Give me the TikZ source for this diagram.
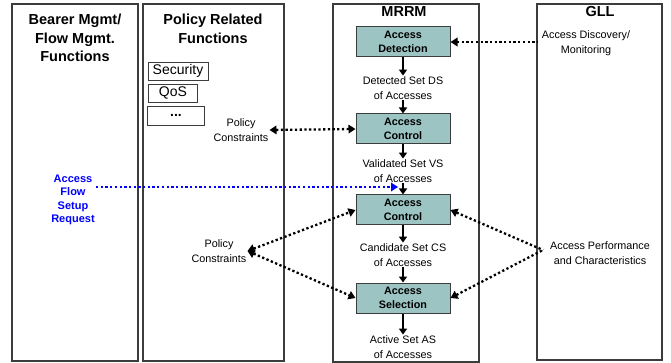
\documentclass[tikz,border=0pt]{standalone}
\usepackage{fontspec}
\setmainfont{Liberation Sans}
\usetikzlibrary{arrows.meta}
\definecolor{boxteal}{RGB}{155,196,194}
\definecolor{colline}{RGB}{60,60,60}
\tikzset{
  column/.style={draw=colline, line width=1.1pt},
  coltitle/.style={font=\fontsize{14.5}{18.5}\selectfont\bfseries, align=center, inner sep=0pt},
  funcbox/.style={draw=colline, line width=0.7pt, font=\fontsize{14}{16}\selectfont, inner sep=0pt},
  mrrmbox/.style={draw=colline, fill=boxteal, line width=1pt, minimum width=94pt, minimum height=30pt, align=center, inner sep=0pt, font=\fontsize{10.8}{14}\selectfont\bfseries},
  setlabel/.style={font=\fontsize{10.8}{14.5}\selectfont, align=center, inner sep=1pt},
  flowarrow/.style={line width=2pt, -{Triangle[length=6pt,width=8pt]}},
  dotarrow/.style={line width=2.3pt, dash pattern=on 2.3pt off 2.4pt, {Triangle[length=7pt,width=8.5pt]}-{Triangle[length=7pt,width=8.5pt]}},
  dotleft/.style={line width=2.3pt, dash pattern=on 2.3pt off 2.4pt, {Triangle[length=7pt,width=8.5pt]}-},
}
\begin{document}
\begin{tikzpicture}[x=1pt,y=-1pt]
\useasboundingbox (0,0) rectangle (671,363);
% columns
\draw[column] (12,4) rectangle (138,361);
\draw[column] (143,4) rectangle (284,361);
\draw[column] (333,4) rectangle (479,362);
\draw[column] (537,4) rectangle (662,360);
% titles
\node[coltitle] (t1) at (75,38) {Bearer Mgmt/\\Flow Mgmt.\\Functions};
\node[coltitle] (t2) at (213,29) {Policy Related\\Functions};
\node[coltitle] (t3) at (404,12) {MRRM};
\node[coltitle] (t4) at (600,12) {GLL};
% policy function boxes
\node[funcbox, minimum width=60pt, minimum height=18pt] (sec) at (178,71) {Security};
\node[funcbox, minimum width=49pt, minimum height=18pt] (qos) at (173,93) {QoS};
\node[funcbox, minimum width=57pt, minimum height=19pt] (dots) at (176,116) {\raisebox{2pt}{\bfseries...}};
% MRRM boxes
\node[mrrmbox] (ad) at (403,42) {Access\\Detection};
\node[mrrmbox] (ac1) at (403,129) {Access\\Control};
\node[mrrmbox] (ac2) at (403,210) {Access\\Control};
\node[mrrmbox] (as) at (403,298) {Access\\Selection};
% set labels
\node[setlabel] (ds) at (403,88) {Detected Set DS\\of Accesses};
\node[setlabel] (vs) at (403,171) {Validated Set VS\\of Accesses};
\node[setlabel] (cs) at (403,255) {Candidate Set CS\\of Accesses};
\node[setlabel] (asl) at (403,347) {Active Set AS\\of Accesses};
% flow arrows
\draw[flowarrow] (ad.south) -- (ds.north);
\draw[flowarrow] (ds.south) -- (ac1.north);
\draw[flowarrow] (ac1.south) -- (vs.north);
\draw[flowarrow] (vs.south) -- (ac2.north);
\draw[flowarrow] (ac2.south) -- (cs.north);
\draw[flowarrow] (cs.south) -- (as.north);
\draw[flowarrow] (as.south) -- (asl.north);
% side labels
\node[setlabel] (disc) at (586,43) {Access Discovery/\\Monitoring};
\node[setlabel] (pc1) at (241,130) {Policy\\Constraints};
\node[setlabel] (pc2) at (219,251) {Policy\\Constraints};
\node[setlabel] (perf) at (600,253) {Access Performance\\and Characteristics};
\node[font=\fontsize{11}{13.5}\selectfont\bfseries, text=blue, align=center, inner sep=0pt] (afsr) at (73,200) {Access\\Flow\\Setup\\Request};
% dotted connectors
\coordinate (discw) at (538,42);
\coordinate (perfw) at (543,250);
\coordinate (flowstart) at (96,187);
\coordinate (flowend) at (398,187);
\draw[dotleft] (ad.east) -- (discw);
\draw[dotarrow] (pc1.east) -- (ac1.west);
\draw[dotarrow] (pc2.east) -- (ac2.west);
\draw[dotarrow] (pc2.east) -- (as.west);
\draw[dotleft] (ac2.east) -- (perfw);
\draw[dotleft] (as.east) -- (perfw);
\draw[line width=2.3pt, dash pattern=on 2.3pt off 2.4pt, blue, -{Triangle[length=7pt,width=8.5pt]}] (flowstart) -- (flowend);
\end{tikzpicture}
\end{document}
